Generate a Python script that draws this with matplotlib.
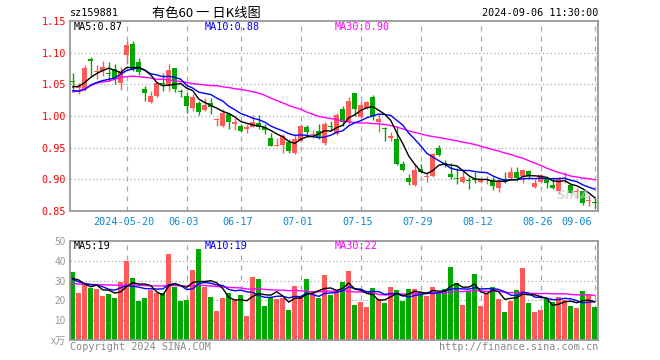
import matplotlib
matplotlib.use("Agg")
import matplotlib.pyplot as plt
import numpy as np
import pandas as pd

# daily K-line for sz159881, 2024-05-07 .. 2024-09-06 (88 trading days)
opens = [1.056, 1.045, 1.042, 1.090, 1.070, 1.071, 1.068, 1.075, 1.052, 1.096,
         1.114, 1.085, 1.043, 1.022, 1.032, 1.051, 1.047, 1.075, 1.040, 1.032,
         1.013, 1.020, 1.010, 1.021, 0.993, 0.984, 1.003, 0.988, 0.984, 0.980,
         0.983, 0.989, 0.983, 0.966, 0.952, 0.954, 0.959, 0.941, 0.961, 0.983,
         0.970, 0.976, 0.958, 0.985, 0.971, 1.011, 0.990, 1.036, 0.999, 1.013,
         1.030, 0.990, 0.981, 0.966, 0.963, 0.925, 0.902, 0.891, 0.916, 0.904,
         0.905, 0.949, 0.926, 0.909, 0.902, 0.896, 0.898, 0.900, 0.896, 0.899,
         0.899, 0.887, 0.901, 0.902, 0.912, 0.905, 0.913, 0.888, 0.896, 0.900,
         0.891, 0.881, 0.901, 0.891, 0.880, 0.881, 0.866, 0.864]
highs = [1.068, 1.052, 1.080, 1.093, 1.080, 1.087, 1.085, 1.082, 1.078, 1.118,
         1.118, 1.091, 1.047, 1.040, 1.054, 1.068, 1.082, 1.076, 1.042, 1.038,
         1.034, 1.024, 1.029, 1.029, 0.997, 1.011, 1.004, 0.997, 0.987, 0.987,
         1.001, 1.001, 0.987, 0.973, 0.966, 0.971, 0.964, 0.971, 0.987, 0.986,
         0.978, 0.988, 0.991, 0.992, 1.004, 1.016, 1.030, 1.037, 1.024, 1.024,
         1.033, 1.003, 0.983, 0.975, 0.984, 0.929, 0.909, 0.922, 0.924, 0.911,
         0.942, 0.955, 0.930, 0.926, 0.918, 0.916, 0.903, 0.912, 0.901, 0.905,
         0.903, 0.900, 0.911, 0.919, 0.919, 0.916, 0.914, 0.900, 0.908, 0.904,
         0.903, 0.903, 0.911, 0.892, 0.887, 0.882, 0.875, 0.870]
lows = [1.040, 1.035, 1.039, 1.063, 1.058, 1.063, 1.055, 1.050, 1.041, 1.082,
        1.071, 1.065, 1.024, 1.020, 1.030, 1.040, 1.040, 1.038, 1.030, 1.004,
        1.008, 1.001, 1.008, 1.003, 0.984, 0.983, 0.980, 0.978, 0.975, 0.973,
        0.982, 0.979, 0.971, 0.952, 0.952, 0.941, 0.942, 0.940, 0.959, 0.968,
        0.966, 0.963, 0.955, 0.976, 0.970, 0.984, 0.987, 1.000, 0.997, 1.011,
        0.994, 0.974, 0.961, 0.961, 0.922, 0.913, 0.891, 0.890, 0.910, 0.896,
        0.904, 0.937, 0.919, 0.900, 0.892, 0.895, 0.885, 0.895, 0.894, 0.892,
        0.883, 0.880, 0.895, 0.899, 0.898, 0.895, 0.900, 0.887, 0.895, 0.886,
        0.884, 0.877, 0.895, 0.877, 0.871, 0.860, 0.858, 0.855]
closes = [1.054, 1.048, 1.076, 1.087, 1.071, 1.077, 1.067, 1.058, 1.070, 1.112,
          1.074, 1.070, 1.036, 1.032, 1.052, 1.050, 1.073, 1.043, 1.038, 1.016,
          1.030, 1.006, 1.017, 1.014, 0.995, 1.004, 0.990, 0.990, 0.977, 0.982,
          0.990, 0.983, 0.978, 0.953, 0.954, 0.969, 0.945, 0.963, 0.985, 0.974,
          0.972, 0.965, 0.988, 0.982, 1.001, 0.991, 1.024, 1.011, 1.017, 1.022,
          1.000, 0.995, 0.980, 0.968, 0.925, 0.915, 0.896, 0.915, 0.912, 0.906,
          0.940, 0.938, 0.925, 0.903, 0.901, 0.903, 0.897, 0.899, 0.899, 0.901,
          0.889, 0.898, 0.896, 0.912, 0.902, 0.914, 0.905, 0.895, 0.907, 0.895,
          0.886, 0.900, 0.902, 0.879, 0.882, 0.863, 0.868, 0.863]
# volume, in 万
volumes = [34.3, 23.9, 28.6, 26.2, 25.7, 22.2, 23.2, 21.2, 29.3, 39.8,
           31.3, 19.7, 21.2, 25.2, 23.9, 23.5, 43.3, 26.7, 19.7, 20.2,
           35.3, 45.8, 26.7, 21.7, 14.8, 21.0, 23.5, 20.0, 22.5, 12.2,
           31.8, 30.8, 17.2, 21.2, 20.9, 21.0, 15.2, 27.3, 21.5, 30.8,
           23.9, 21.2, 32.8, 22.7, 24.5, 29.2, 34.8, 17.7, 19.3, 16.7,
           26.2, 20.5, 18.9, 26.7, 25.2, 19.7, 25.7, 25.7, 24.4, 22.2,
           26.7, 24.4, 25.7, 36.8, 28.7, 17.7, 24.7, 33.3, 17.2, 23.9,
           26.7, 20.7, 14.2, 19.7, 25.2, 36.3, 18.7, 14.2, 15.2, 20.5,
           19.0, 21.5, 20.2, 17.0, 16.3, 24.5, 22.5, 16.5]

# moving averages before enough days are on the chart
ma5_head = [1.046, 1.047, 1.053, 1.061]
ma10_head = [1.040, 1.039, 1.042, 1.049, 1.053, 1.056, 1.058, 1.060, 1.066]
ma30_head = [1.038, 1.040, 1.043, 1.048, 1.052, 1.054, 1.055, 1.058, 1.061, 1.062,
             1.063, 1.062, 1.061, 1.060, 1.058, 1.058, 1.057, 1.056, 1.054, 1.053,
             1.051, 1.050, 1.049, 1.048, 1.048, 1.046, 1.045, 1.043, 1.042]
vma5_head = [31.1, 30.3, 28.2, 26.9]
vma10_head = [30.6, 29.4, 28.6, 28.0, 27.7, 26.9, 25.6, 25.2, 26.4]
vma30_head = [28.5, 28.3, 28.2, 28.0, 28.0, 27.9, 27.8, 27.7, 27.6, 27.8,
              27.9, 27.7, 27.5, 27.4, 27.3, 27.3, 27.5, 27.5, 27.3, 27.2,
              27.3, 27.6, 27.5, 27.3, 27.0, 26.8, 26.6, 26.4, 26.3]

date_ticks = [9, 19, 28, 38, 48, 58, 68, 78, 87]
date_labels = ["2024-05-20", "06-03", "06-17", "07-01", "07-15",
               "07-29", "08-12", "08-26", "09-06"]

RED = "#ff5a5a"
GREEN = "#00a800"
GRID = "#a8a8a8"
MONO = "DejaVu Sans Mono"
CJK = ["Noto Sans CJK SC", "DejaVu Sans Mono"]


def moving(values, n, head):
    s = pd.Series(values).rolling(n).mean().to_numpy()
    s[:len(head)] = head
    return s


o = np.array(opens)
c = np.array(closes)
x = np.arange(len(c))
up = c >= o
colors = np.where(up, RED, GREEN)

ma5 = moving(closes, 5, ma5_head)
ma10 = moving(closes, 10, ma10_head)
ma30 = moving(closes, 30, ma30_head)
vma5 = moving(volumes, 5, vma5_head)
vma10 = moving(volumes, 10, vma10_head)
vma30 = moving(volumes, 30, vma30_head)

W, H = 660, 360
fig = plt.figure(figsize=(W / 100, H / 100), dpi=100)
ax = fig.add_axes([70 / W, (H - 211) / H, 528 / W, 190 / H])
axv = fig.add_axes([70 / W, (H - 340) / H, 528 / W, 99 / H])

xlim = (-0.47, len(c) - 0.45)
for a in (ax, axv):
    a.set_xlim(*xlim)
    for sp in a.spines.values():
        sp.set_color("#999999")
        sp.set_linewidth(1.3)
    a.set_xticks([])
    a.tick_params(axis="y", length=0, pad=3)
    for t in date_ticks:
        a.axvline(t, color=GRID, lw=0.9, ls=(0, (4, 4)), zorder=0)

# price panel
ax.set_ylim(0.85, 1.15)
for v in [0.90, 0.95, 1.00, 1.05, 1.10]:
    ax.axhline(v, color=GRID, lw=0.9, ls=(0, (1, 2)), zorder=0)
ticks = [0.85, 0.90, 0.95, 1.00, 1.05, 1.10, 1.15]
ax.set_yticks(ticks)
ax.set_yticklabels([f"{t:.2f}" for t in ticks], color="red",
                   family=MONO, fontsize=7.3)

ax.vlines(x, lows, highs, colors=colors, lw=1, zorder=2)
body = np.maximum(np.abs(c - o), 0.0015)
ax.bar(x, body, bottom=np.minimum(o, c), width=0.82, color=colors,
       linewidth=0, zorder=3)
ax.plot(x, ma30, color="#ff00ff", lw=1, zorder=4)
ax.plot(x, ma10, color="#0000ff", lw=1, zorder=4)
ax.plot(x, ma5, color="black", lw=1, zorder=4)
# faint sina watermark, bottom right
ax.text(0.985, 0.08, "SINA", transform=ax.transAxes, ha="right", va="center",
        fontsize=9, fontweight="bold", style="italic", color="#c8c8c8",
        alpha=0.6, zorder=5, family="DejaVu Sans")

xt = ax.get_xaxis_transform()
for t, lab in zip(date_ticks, date_labels):
    if t == date_ticks[-1]:
        ax.text(t - 0.5, -0.058, lab, transform=xt, ha="right", va="center",
                color="#0a88d8", family=MONO, fontsize=7.3)
    else:
        ax.text(t - 0.5, -0.058, lab, transform=xt, ha="center", va="center",
                color="#0a88d8", family=MONO, fontsize=7.3)

# volume panel
axv.set_ylim(0, 50)
for v in [10, 20, 30, 40]:
    axv.axhline(v, color=GRID, lw=0.9, ls=(0, (1, 2)), zorder=0)
axv.set_yticks([0, 10, 20, 30, 40, 50])
axv.set_yticklabels(["x万", "10", "20", "30", "40", "50"], color="#999999",
                    family=CJK, fontsize=7.3)
axv.bar(x, volumes, width=0.82, color=colors, linewidth=0, zorder=2)
axv.plot(x, vma30, color="#ff00ff", lw=1, zorder=4)
axv.plot(x, vma10, color="#0000ff", lw=1, zorder=4)
axv.plot(x, vma5, color="black", lw=1, zorder=4)

# texts
def ftext(px, py, s, **kw):
    kw.setdefault("family", MONO)
    kw.setdefault("fontsize", 7.3)
    kw.setdefault("va", "center")
    fig.text(px / W, 1 - py / H, s, **kw)


ftext(70, 13, "sz159881")
ftext(206, 13, "有色60 一 日K线图", ha="center", family=CJK, fontsize=9.5)
ftext(598, 13, "2024-09-06 11:30:00", ha="right")
ftext(74, 27, f"MA5:{ma5[-1]:.2f}", color="black")
ftext(205, 27, f"MA10:{ma10[-1]:.2f}", color="#0000ff")
ftext(335, 27, f"MA30:{ma30[-1]:.2f}", color="#ff00ff")
ftext(74, 246, f"MA5:{vma5[-1]:.0f}", color="black")
ftext(205, 246, f"MA10:{vma10[-1]:.0f}", color="#0000ff")
ftext(335, 246, f"MA30:{vma30[-1]:.0f}", color="#ff00ff")
ftext(70, 347, "Copyright 2024 SINA.COM", color="#888888")
ftext(598, 347, "http://finance.sina.com.cn", ha="right", color="#888888")

fig.savefig("out.png", dpi=100, facecolor="white")
